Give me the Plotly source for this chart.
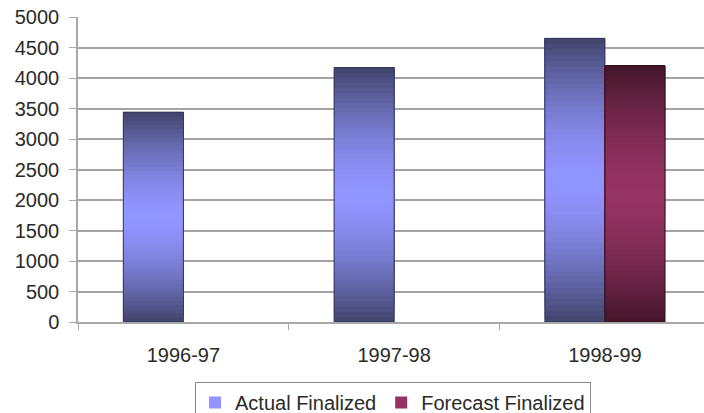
import plotly.graph_objects as go

categories = ["1996-97", "1997-98", "1998-99"]
actual_finalized = [3440, 4170, 4650]
forecast_finalized = [None, None, 4200]
y_ticks = [0, 500, 1000, 1500, 2000, 2500, 3000, 3500, 4000, 4500, 5000]

N = 50

def hex2rgb(h):
    h = h.lstrip("#")
    return tuple(int(h[i:i + 2], 16) for i in (0, 2, 4))

def mix(c1, c2, w):
    a, b = hex2rgb(c1), hex2rgb(c2)
    return "rgb(%d,%d,%d)" % tuple(round(a[i] + (b[i] - a[i]) * w) for i in range(3))

def light_weight(t):
    # t: 0 at bottom, 1 at top; light in the middle
    d = abs(t - 0.5) / 0.5
    return max(0.0, 1 - d ** 1.6)

series = [
    ("Actual Finalized", actual_finalized, "a", "#404369", "#9195ff", "#33355a"),
    ("Forecast Finalized", forecast_finalized, "f", "#43162a", "#953362", "#2e0f1d"),
]

fig = go.Figure()
for name, vals, grp, dark, light, edge in series:
    for k in range(N):
        t = (k + 0.5) / N
        col = mix(dark, light, light_weight(t))
        # each segment runs from its base up to the bar's top; later ones cover the rest
        ys = [None if v is None else v * (N - k) / N for v in vals]
        bs = [None if v is None else v * k / N for v in vals]
        fig.add_trace(go.Bar(
            x=categories, y=ys, base=bs, offsetgroup=grp, name=name,
            legendgroup=grp, showlegend=(k == N // 2),
            marker=dict(color=col, line=dict(width=0)),
            hoverinfo="skip",
        ))
    fig.add_trace(go.Bar(
        x=categories, y=vals, offsetgroup=grp, name=name, legendgroup=grp,
        showlegend=False,
        marker=dict(color="rgba(0,0,0,0)", line=dict(color=edge, width=1)),
    ))

fig.update_layout(
    width=704, height=413,
    margin=dict(l=78, r=0, t=17, b=91),
    paper_bgcolor="white", plot_bgcolor="white",
    barmode="group", bargap=0.43, bargroupgap=0,
    font=dict(family="Liberation Sans, Arial, sans-serif", size=20, color="#2a2a2a"),
    showlegend=True,
    legend=dict(
        orientation="h", xref="container", yref="container",
        x=195 / 704, y=(413 - 382) / 413, xanchor="left", yanchor="top",
        bordercolor="#8a8a8a", borderwidth=1, bgcolor="white",
        font=dict(size=20, color="#2a2a2a"),
        itemwidth=30, tracegroupgap=0,
    ),
    xaxis=dict(
        range=[-0.5, 2.47], showgrid=False, showline=True, linecolor="#a8a8a8",
        linewidth=1.5, ticks="outside", tickson="boundaries", ticklen=6,
        tickcolor="#a8a8a8", ticklabelstandoff=14, zeroline=False,
        automargin=False,
    ),
    yaxis=dict(
        range=[0, 5000], tickvals=y_ticks, showgrid=True, gridcolor="#a4a4a4",
        gridwidth=1.5, showline=True, linecolor="#a8a8a8", linewidth=1.5,
        ticks="outside", ticklen=7, tickcolor="#a8a8a8", zeroline=False,
        ticklabelstandoff=6, automargin=False,
    ),
)

fig.write_html("out.html")
